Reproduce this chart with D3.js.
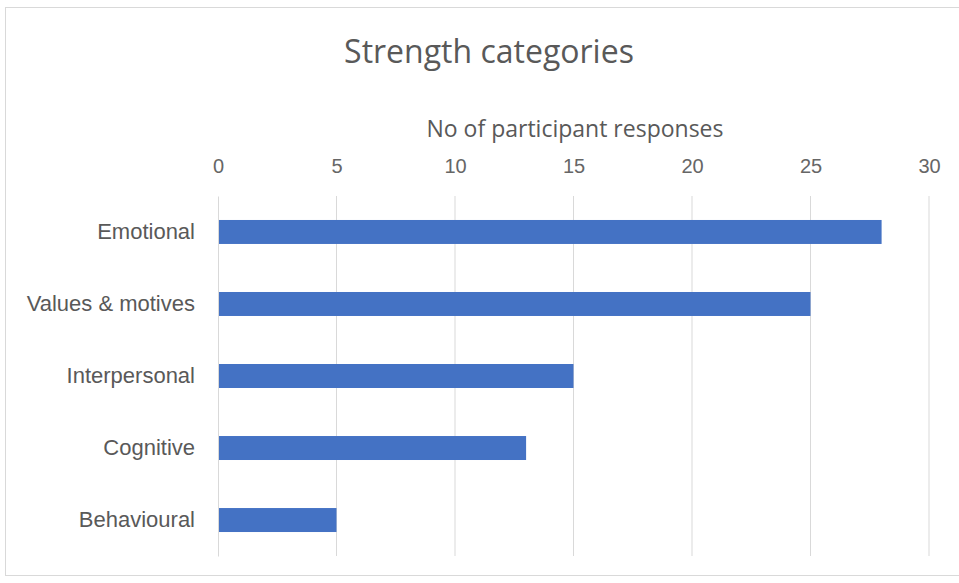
<!DOCTYPE html>
<html>
<head>
<meta charset="utf-8">
<script src="https://cdn.jsdelivr.net/npm/d3@7/dist/d3.min.js"></script>
<style>
  html, body { margin: 0; padding: 0; background: #fff; }
  svg { display: block; font-family: "Open Sans", Lato, sans-serif; }
</style>
</head>
<body>
<svg id="chart" width="959" height="583"></svg>
<script>
// Strength categories reported by participants
const categories = ["Emotional", "Values & motives", "Interpersonal", "Cognitive", "Behavioural"];
const responses = [28, 25, 15, 13, 5];
const tickValues = [0, 5, 10, 15, 20, 25, 30];

const svg = d3.select("#chart");
const W = 959, H = 583;
const margin = { top: 196, right: 30, bottom: 27, left: 218 };
const innerW = W - margin.left - margin.right;
const innerH = H - margin.top - margin.bottom;

// chart frame
svg.append("rect")
  .attr("x", 5.5).attr("y", 7.5)
  .attr("width", W - 5).attr("height", 568)
  .attr("fill", "#fff").attr("stroke", "#d9d9d9");

const x = d3.scaleLinear().domain([0, 30]).range([0, innerW]);
const y = d3.scaleBand().domain(categories).range([0, innerH]).paddingInner(0.667).paddingOuter(0.333);

const g = svg.append("g").attr("transform", `translate(${margin.left},${margin.top})`);

// vertical gridlines
g.append("g")
  .selectAll("line")
  .data(tickValues.slice(1))
  .join("line")
  .attr("x1", d => x(d)).attr("x2", d => x(d))
  .attr("y1", 0).attr("y2", innerH)
  .attr("stroke", "#d9d9d9").attr("stroke-width", 1);

// value axis on top
const xAxis = g.append("g")
  .call(d3.axisTop(x).tickValues(tickValues).tickSize(0).tickPadding(23));
xAxis.select(".domain").remove();
xAxis.selectAll("text")
  .attr("fill", "#666").attr("font-size", 20);

// bars
g.selectAll("rect.bar")
  .data(categories)
  .join("rect")
  .attr("class", "bar")
  .attr("x", x(0))
  .attr("y", d => y(d))
  .attr("width", (d, i) => x(responses[i]) - x(0))
  .attr("height", y.bandwidth())
  .attr("fill", "#4472c4");

// category axis
const yAxis = g.append("g")
  .call(d3.axisLeft(y).tickSize(0).tickPadding(23));
yAxis.select(".domain").attr("stroke", "#d9d9d9");
yAxis.selectAll("text")
  .attr("fill", "#595959").attr("font-size", 22);

// titles
svg.append("text")
  .attr("x", 489).attr("y", 63)
  .attr("text-anchor", "middle")
  .attr("fill", "#595959").attr("font-size", 32)
  .text("Strength categories");

svg.append("text")
  .attr("x", 575).attr("y", 137)
  .attr("text-anchor", "middle")
  .attr("fill", "#595959").attr("font-size", 23)
  .text("No of participant responses");
</script>
</body>
</html>
